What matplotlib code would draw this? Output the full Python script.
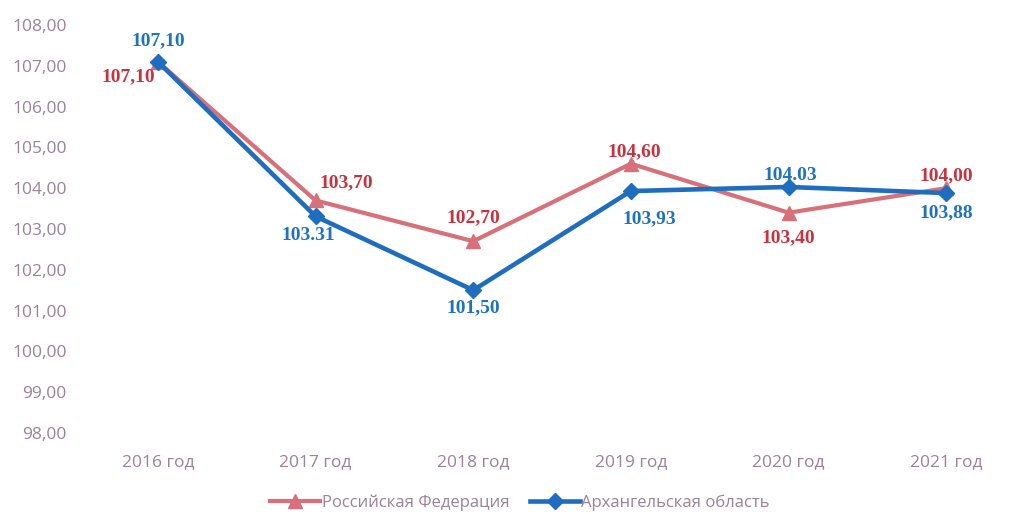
import matplotlib
matplotlib.use("Agg")
import matplotlib.pyplot as plt

categories = ["2016 год", "2017 год", "2018 год", "2019 год", "2020 год", "2021 год"]
russia = [107.10, 103.70, 102.70, 104.60, 103.40, 104.00]
arkh = [107.10, 103.31, 101.50, 103.93, 104.03, 103.88]
russia_labels = ["107,10", "103,70", "102,70", "104,60", "103,40", "104,00"]
arkh_labels = ["107,10", "103.31", "101,50", "103,93", "104.03", "103,88"]
yticks = [98, 99, 100, 101, 102, 103, 104, 105, 106, 107, 108]

red_line = "#D8707A"
red_text = "#C8323F"
blue_line = "#1F6DBE"
blue_text = "#1E73BE"
tick_col = "#9A8297"

fig = plt.figure(figsize=(10.2, 5.14), dpi=100)
ax = fig.add_axes([0.0775, 0.1576, 0.9275, 0.7938])
x = list(range(len(categories)))

ax.plot(x, russia, color=red_line, lw=3, marker="^", ms=10, label="Российская Федерация", zorder=2)
ax.plot(x, arkh, color=blue_line, lw=3.3, marker="D", ms=8, label="Архангельская область", zorder=3)

r_off = [(-30, -15), (31, 18), (0, 23), (3, 12), (0, -25), (0, 12)]
b_off = [(0, 21), (-7, -19), (0, -18), (18, -28), (2, 11), (0, -20)]
for i in x:
    ax.annotate(russia_labels[i], (i, russia[i]), xytext=r_off[i], textcoords="offset pixels",
                ha="center", va="center", color=red_text, fontsize=14, fontweight="bold",
                family="Liberation Serif", zorder=5)
    ax.annotate(arkh_labels[i], (i, arkh[i]), xytext=b_off[i], textcoords="offset pixels",
                ha="center", va="center", color=blue_text, fontsize=14, fontweight="bold",
                family="Liberation Serif", zorder=5)

ax.set_xlim(-0.5, 5.5)
ax.set_ylim(98, 108)
ax.set_yticks(yticks)
ax.set_yticklabels([f"{v:.2f}".replace(".", ",") for v in yticks])
ax.set_xticks(x)
ax.set_xticklabels(categories)
for lab in ax.get_xticklabels() + ax.get_yticklabels():
    lab.set_color(tick_col)
    lab.set_fontsize(12.5)
    lab.set_family("Open Sans")
ax.tick_params(axis="both", length=0)
ax.tick_params(axis="x", pad=15)
ax.tick_params(axis="y", pad=9)
for s in ax.spines.values():
    s.set_visible(False)

leg = fig.legend(loc="center", bbox_to_anchor=(0.51, 0.022), ncol=2, frameon=False,
                 prop={"family": "Open Sans", "size": 12}, handlelength=3, columnspacing=1.2,
                 handletextpad=0.1)
for t in leg.get_texts():
    t.set_color(tick_col)

fig.savefig("out.png", dpi=100)
